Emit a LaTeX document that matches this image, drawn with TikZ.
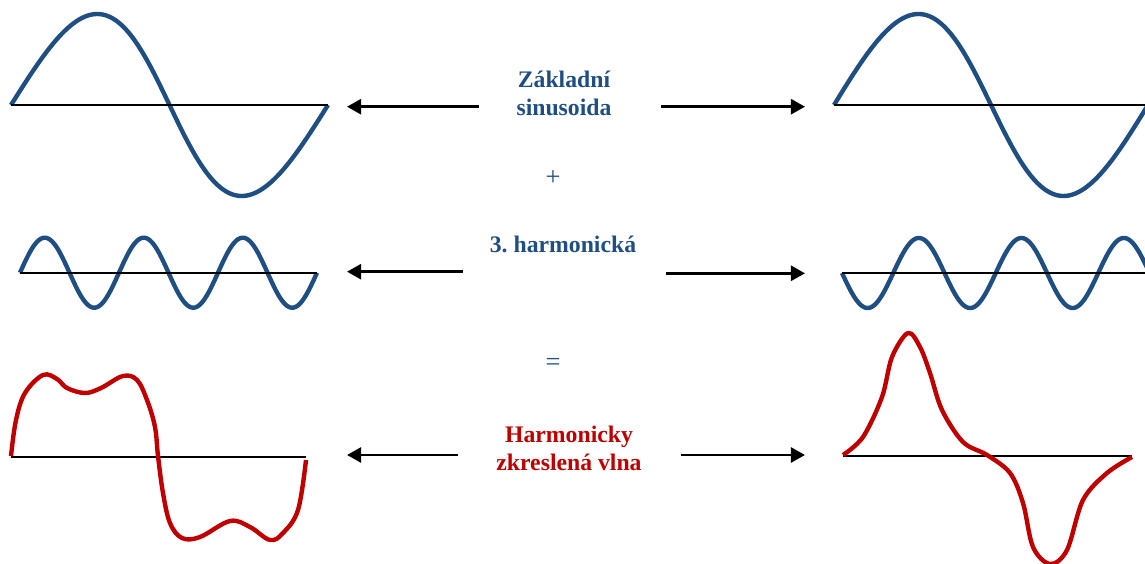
\documentclass[tikz,border=0pt]{standalone}
\usepackage{fontspec}
\setmainfont{Liberation Serif}
\usetikzlibrary{arrows.meta}
\definecolor{wave}{HTML}{1F4E82}
\definecolor{distort}{HTML}{C00000}
\frenchspacing

\begin{document}
\begin{tikzpicture}[
    x=0.02cm, y=-0.02cm,
    sine/.style={line width=2.5pt, wave, line join=round},
    bent/.style={line width=2.5pt, distort, line join=round},
    axis/.style={line width=1.2pt, black},
    arrow/.style={-{Triangle[length=8pt, width=8.5pt]}, line width=1.6pt},
    caption/.style={font=\fontsize{13.5}{16}\selectfont\bfseries, align=center, inner sep=0pt},
    sign/.style={font=\fontsize{15}{16}\selectfont, wave, inner sep=0pt}
  ]
  \clip (0,0) rectangle (1145,564);

  % labels in the middle column
  \node[caption, wave] (fund) at (564,93) {Základní\\sinusoida};
  \node[sign] (plus) at (553,178) {+};
  \node[caption, wave] (harm) at (563,244) {3. harmonická};
  \node[sign] (eq) at (553,364) {=};
  \node[caption, distort] (dist) at (569,448) {Harmonicky\\zkreslená vlna};

  % arrow ends
  \coordinate (fundLt) at (479,106.7);
  \coordinate (fundL) at (347,106.7);
  \coordinate (fundRt) at (661,106.7);
  \coordinate (fundR) at (805,106.7);
  \coordinate (harmLt) at (463,271.7);
  \coordinate (harmL) at (347,271.7);
  \coordinate (harmRt) at (666,273.3);
  \coordinate (harmR) at (805,273.3);
  \coordinate (distLt) at (458,455);
  \coordinate (distL) at (347,455);
  \coordinate (distRt) at (681,455);
  \coordinate (distR) at (805,455);

  \draw[arrow] (fundLt) -- (fundL);
  \draw[arrow] (fundRt) -- (fundR);
  \draw[arrow] (harmLt) -- (harmL);
  \draw[arrow] (harmRt) -- (harmR);
  \draw[arrow] (distLt) -- (distL);
  \draw[arrow] (distRt) -- (distR);

  % fundamental
  \draw[sine] plot[domain=0:360, samples=120] ({11+\x/360*317+7*sin(\x)}, {105-91*sin(\x)});
  \draw[sine] plot[domain=0:360, samples=120] ({834+\x/360*314+6*sin(\x)}, {105-91*sin(\x)});
  \draw[axis] (11,105) -- (328,105);
  \draw[axis] (834,105) -- (1150,105);

  % third harmonic
  \draw[sine] plot[domain=0:1080, samples=240] ({20+\x/1080*297}, {272.7-35*sin(\x)});
  \draw[sine] plot[domain=0:1080, samples=240] ({842+\x/360*102.5}, {273+35*sin(\x)});
  \draw[axis] (20,272.7) -- (317,272.7);
  \draw[axis] (842,273) -- (1150,273);

  % distorted waves
  \draw[axis] (11,456.7) -- (306,456.7);
  \draw[axis] (843,456) -- (1132,456);
  \draw[bent] plot[smooth, tension=0.6] coordinates {
    (11,456) (16,420) (25,393) (43,375) (57,379) (67,388) (85,393)
    (101,388) (123,376) (137,380) (147,400) (155,427) (158,456)
    (163,493) (170,523) (182,538) (200,537) (230,521) (250,527)
    (270,540) (283,533) (298,510) (306,460)};
  \draw[bent] plot[smooth, tension=0.55] coordinates {
    (843,455) (863,437) (882,397) (892,357) (908,333) (920,347)
    (930,373) (942,410) (963,442) (987,455) (1010,473) (1023,503)
    (1033,547) (1050,564) (1067,550) (1083,500) (1107,473) (1132,457)};
\end{tikzpicture}
\end{document}
